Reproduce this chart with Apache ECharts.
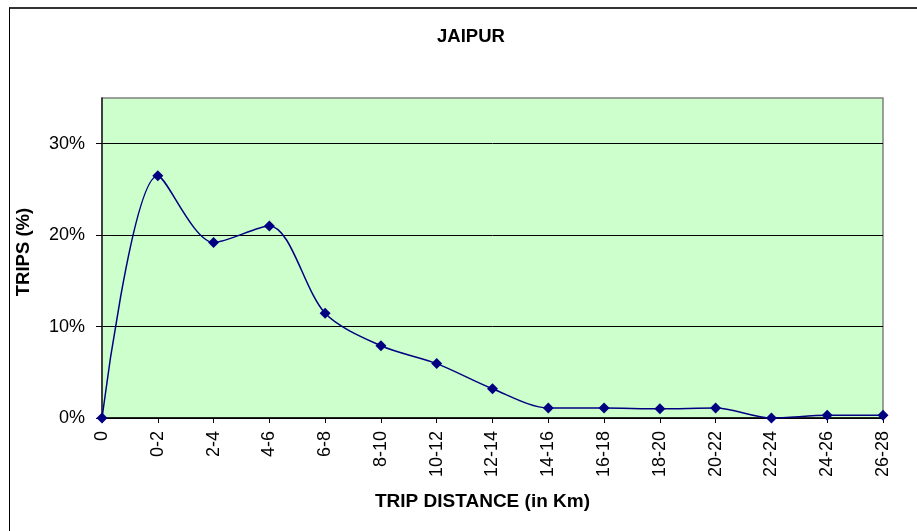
<!DOCTYPE html>
<html>
<head>
<meta charset="utf-8">
<script src="https://cdn.jsdelivr.net/npm/echarts@6/dist/echarts.min.js"></script>
<style>
  html, body { margin: 0; padding: 0; background: #ffffff; }
  #frame { position: absolute; left: 9px; top: 7px; width: 1000px; height: 600px;
           border-left: 1px solid #000; border-top: 2px solid #333; box-sizing: border-box; }
  #chart { position: absolute; left: 0; top: 0; width: 917px; height: 531px; }
</style>
</head>
<body>
<div id="frame"></div>
<div id="chart"></div>
<script>
// Trip distance bands (km)
const categories = ['0', '0-2', '2-4', '4-6', '6-8', '8-10', '10-12', '12-14',
                    '14-16', '16-18', '18-20', '20-22', '22-24', '24-26', '26-28'];
// Share of trips in each band (%)
const tripShare = [0, 26.5, 19.2, 21.0, 11.45, 7.9, 5.95, 3.2,
                   1.1, 1.1, 1.0, 1.1, 0, 0.3, 0.3];
// Value-axis tick marks (%)
const yTicks = [0, 10, 20, 30];

const FONT = 'Liberation Sans, Arial, sans-serif';
const chart = echarts.init(document.getElementById('chart'), null, { renderer: 'canvas' });

chart.setOption({
  backgroundColor: 'transparent',
  animation: false,
  title: {
    text: 'JAIPUR',
    left: 466,
    top: 22,
    textAlign: 'center',
    textStyle: { fontFamily: FONT, fontSize: 18.5, fontWeight: 'bold', color: '#000' }
  },
  grid: {
    left: 102, top: 98, right: 34, bottom: 113,
    show: true,
    backgroundColor: '#CCFFCC',
    borderColor: '#808080',
    borderWidth: 1.5
  },
  xAxis: {
    type: 'category',
    data: categories,
    boundaryGap: false,
    name: 'TRIP DISTANCE (in Km)',
    nameLocation: 'middle',
    nameGap: 74,
    nameTextStyle: { fontFamily: FONT, fontSize: 19, fontWeight: 'bold', color: '#000', padding: [0, 20, 0, 0] },
    axisLine: { lineStyle: { color: '#000', width: 1.5 } },
    axisTick: { show: true, inside: false, length: 5, alignWithLabel: true, lineStyle: { color: '#000' } },
    axisLabel: {
      rotate: 90,
      margin: 13,
      interval: 0,
      fontFamily: FONT,
      fontSize: 18,
      color: '#000'
    },
    splitLine: { show: false }
  },
  yAxis: {
    type: 'value',
    min: 0,
    max: 35,
    interval: 10,
    name: 'TRIPS (%)',
    nameLocation: 'middle',
    nameGap: 69,
    nameRotate: 90,
    nameTextStyle: { fontFamily: FONT, fontSize: 18.5, fontWeight: 'bold', color: '#000', padding: [0, 0, 0, 12] },
    axisLine: { show: true, lineStyle: { color: '#222', width: 1.5 } },
    axisTick: { show: true, length: 6, customValues: yTicks, lineStyle: { color: '#000' } },
    axisLabel: {
      margin: 17,
      fontFamily: FONT,
      fontSize: 18,
      color: '#000',
      customValues: yTicks,
      formatter: function (v) { return v + '%'; }
    },
    splitLine: { show: true, lineStyle: { color: '#000', width: 1 } }
  },
  series: [{
    type: 'line',
    data: tripShare,
    smooth: 0.3,
    symbol: 'diamond',
    symbolSize: 11,
    itemStyle: { color: '#000080' },
    lineStyle: { color: '#000080', width: 1.5 }
  }]
});
</script>
</body>
</html>
